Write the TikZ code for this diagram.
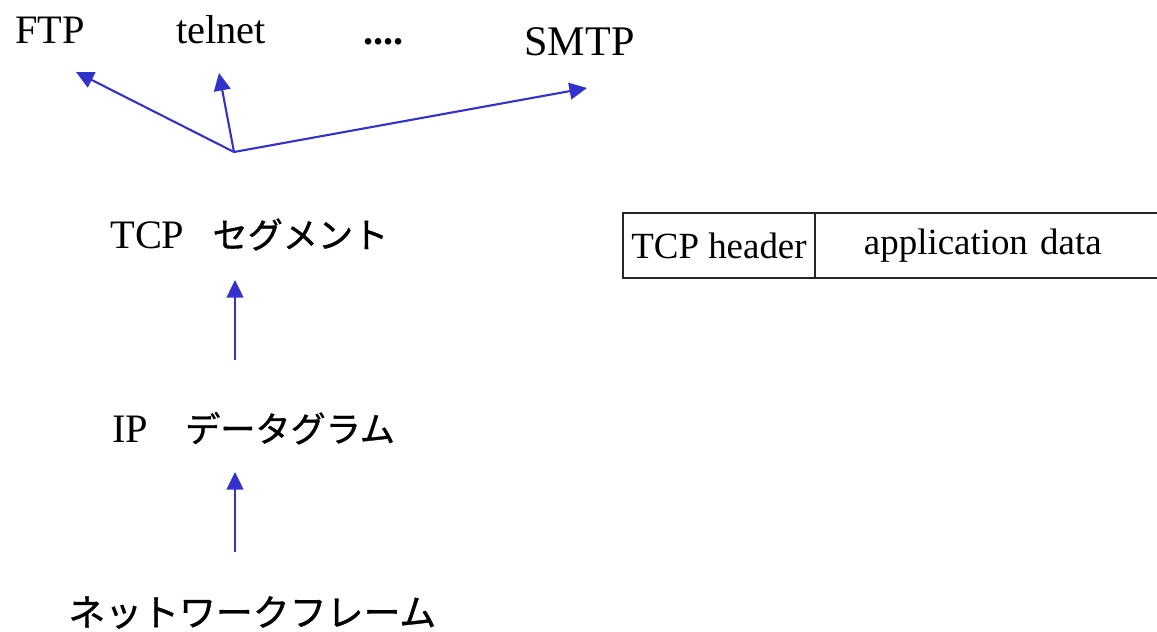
\documentclass[tikz,border=0pt]{standalone}
\usepackage{fontspec}
\setmainfont{Liberation Serif}
\newfontfamily\jp[FakeBold=1]{Noto Sans CJK JP}
\usepackage{tikz}
\usetikzlibrary{positioning,arrows.meta}
\definecolor{arrowblue}{RGB}{51,51,204}

\begin{document}
\begin{tikzpicture}[x=0.02cm,y=-0.02cm]
\tikzset{T/.style={inner sep=0pt,anchor=base west,font=\fontsize{23}{27}\selectfont}}
\tikzset{A/.style={draw=arrowblue,line width=1.2pt,-{Triangle[length=10pt,width=9.5pt]}}}
\tikzset{B/.style={draw=black!85,line width=0.8pt,minimum height=1.3cm,inner sep=0pt,outer sep=0pt,font=\fontsize{21}{25}\selectfont}}

  \useasboundingbox (0,0) rectangle (1157,632);
  \clip (0,0) rectangle (1157,632);

  \node[T] (ftp) at (15,43) {FTP};
  \node[T] (telnet) at (176,43) {telnet};
  \node[T] (dots) at (363,44) {\textbf{....}};
  \node[T,font=\fontsize{24}{28}\selectfont] (smtp) at (524,55) {SMTP};

  \node[T] (seg) at (110,248) {TCP\hspace{16pt}{\jp\fontsize{20}{24}\selectfont セグメント}};
  \node[T] (dgram) at (112,442) {IP\hspace{21pt}{\jp\fontsize{20}{24}\selectfont データグラム}};
  \node[T,font=\jp\fontsize{21}{25}\selectfont] (frame) at (68,626) {ネットワークフレーム};

  \node[B,minimum width=3.84cm] (hdr) at (719,245.5) {TCP header};
  \node[B,right=0pt of hdr,text width=8cm,align=left,inner xsep=0.98cm] (data) {application data};

  \coordinate (fork) at (234,152);
  \coordinate (ftpin) at (76,72);
  \coordinate (telin) at (219,73);
  \coordinate (smtpin) at (587,88);
  \coordinate (segin) at (235,280);
  \coordinate (dgout) at (235,360);
  \coordinate (dgin) at (235,472);
  \coordinate (frout) at (235,552);

  \draw[A] (fork) -- (ftpin);
  \draw[A] (fork) -- (telin);
  \draw[A] (fork) -- (smtpin);
  \draw[A] (dgout) -- (segin);
  \draw[A] (frout) -- (dgin);
\end{tikzpicture}
\end{document}
